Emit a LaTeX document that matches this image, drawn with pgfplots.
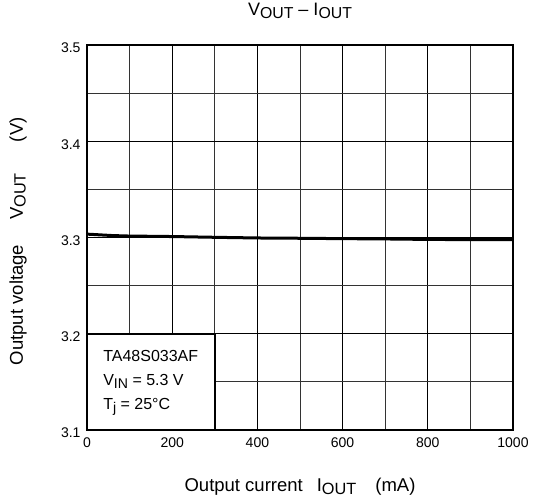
\documentclass[border=0pt]{standalone}
\usepackage{pgfplots}
\pgfplotsset{compat=1.18}
\usepackage{fontspec}
\setmainfont{Liberation Sans}
\newcommand{\sub}[1]{\raisebox{-0.3ex}{\scalebox{0.88}{#1}}}
\newcommand{\tickfont}{\fontsize{14}{16}\selectfont}
\begin{document}
\begin{tikzpicture}
\useasboundingbox (0,0) rectangle (533pt,503pt);
\begin{axis}[
  at={(87pt,73pt)}, anchor=south west,
  scale only axis, width=426pt, height=385pt,
  xmin=0, xmax=1000, ymin=3.1, ymax=3.5,
  xtick={0,200,...,1000}, minor xtick={100,300,...,900},
  ytick={3.1,3.2,...,3.5}, minor ytick={3.15,3.25,3.35,3.45},
  grid=both,
  major grid style={black, line width=0.8pt},
  minor grid style={black!80, line width=0.8pt},
  axis line style={line width=1.8pt},
  tick style={black, line width=0.8pt}, tick align=inside, major tick length=4pt, minor tick length=0pt,
  xticklabel={\tickfont\pgfmathprintnumber[1000 sep={}]{\tick}},
  yticklabel={\tickfont\pgfmathprintnumber[fixed, fixed zerofill, precision=1]{\tick}},
  /pgf/number format/assume math mode=true,
  yticklabel style={xshift=-3pt, yshift=-3pt},
  xticklabel style={yshift=-4pt},
  title={V\sub{OUT} – I\sub{OUT}},
  title style={at={(axis description cs:0.5,1.073)}, anchor=center, font=\fontsize{18}{20}\selectfont},
  xlabel={Output current\hspace{14pt}I\sub{OUT}\hspace{19pt}(mA)},
  xlabel style={at={(axis description cs:0.5,-0.148)}, anchor=center, font=\fontsize{18.5}{20}\selectfont},
  ylabel={Output voltage\hspace{25pt}V\sub{OUT}\hspace{31pt}(V)},
  ylabel style={at={(axis description cs:-0.162,0.49)}, anchor=center, font=\fontsize{18.5}{20}\selectfont},
  clip=false,
]
\addplot[black, line width=3pt] coordinates {
  (0,3.3035) (20,3.3030) (60,3.3020) (100,3.3015) (200,3.3010) (300,3.3002)
  (400,3.2995) (500,3.2992) (600,3.2988) (700,3.2985) (800,3.2980) (900,3.2978) (1000,3.2977)
};
\draw[line width=1.8pt, fill=white] (axis cs:0,3.1) rectangle (axis cs:300,3.2);
\node[anchor=west, align=left, font=\fontsize{16}{18}\selectfont] at (axis cs:30,3.149)
  {TA48S033AF\\[6pt] V\sub{IN} = 5.3 V\\[6pt] T\sub{j} = 25°C};
\end{axis}
\end{tikzpicture}
\end{document}
